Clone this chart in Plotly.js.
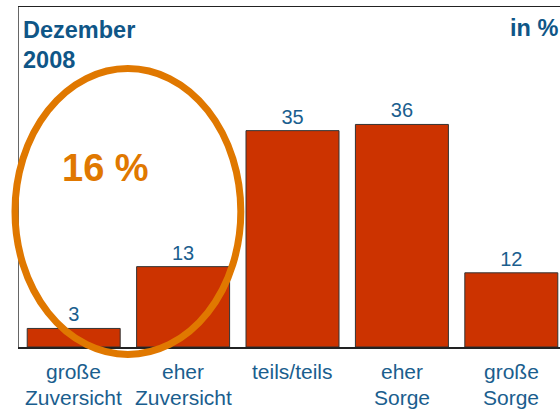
<!DOCTYPE html>
<html>
<head>
<meta charset="utf-8">
<script src="https://cdn.plot.ly/plotly-3.0.1.min.js"></script>
<style>
  html, body { margin: 0; padding: 0; overflow: hidden; background: #fff; }
  #chart { width: 560px; height: 411px; }
</style>
</head>
<body>
<div id="chart"></div>
<script>
const categories = ["große Zuversicht", "eher Zuversicht", "teils/teils", "eher Sorge", "große Sorge"];
const labelLine1 = ["große", "eher", "teils/teils", "eher", "große"];
const labelLine2 = ["Zuversicht", "Zuversicht", "", "Sorge", "Sorge"];
const values = [3, 13, 35, 36, 12];
const highlightText = "16 %";
const titleLines = ["Dezember", "2008"];
const unitText = "in %";

const blue = "#1a5e8e";
const titleBlue = "#0f5687";
const orange = "#e07800";

const font = "Liberation Sans, Arial, Helvetica, sans-serif";

const annotations = [];
categories.forEach((c, i) => {
  annotations.push({
    x: c, xref: "x", y: -0.0725, yref: "paper",
    text: labelLine1[i], showarrow: false, xanchor: "center", yanchor: "middle",
    font: {family: font, size: 21, color: blue}
  });
  if (labelLine2[i]) {
    annotations.push({
      x: c, xref: "x", y: -0.148, yref: "paper",
      text: labelLine2[i], showarrow: false, xanchor: "center", yanchor: "middle",
      font: {family: font, size: 21, color: blue}
    });
  }
});
annotations.push({
  x: 0.004, xref: "paper", y: 0.931, yref: "paper", text: "<b>" + titleLines[0] + "</b>",
  showarrow: false, xanchor: "left", yanchor: "middle",
  font: {family: font, size: 23.5, color: titleBlue}
});
annotations.push({
  x: 0.004, xref: "paper", y: 0.844, yref: "paper", text: "<b>" + titleLines[1] + "</b>",
  showarrow: false, xanchor: "left", yanchor: "middle",
  font: {family: font, size: 23.5, color: titleBlue}
});
annotations.push({
  x: 1.0, xref: "paper", y: 0.937, yref: "paper", text: "<b>" + unitText + "</b>",
  showarrow: false, xanchor: "right", yanchor: "middle",
  font: {family: font, size: 23.5, color: titleBlue}
});
annotations.push({
  x: 0.159, xref: "paper", y: 0.526, yref: "paper", text: "<b>" + highlightText + "</b>",
  showarrow: false, xanchor: "center", yanchor: "middle",
  font: {family: font, size: 38, color: orange}
});

const trace = {
  type: "bar",
  x: categories,
  y: values,
  text: values.map(String),
  textposition: "outside",
  cliponaxis: false,
  textfont: {family: font, size: 20, color: blue},
  marker: {color: "#cc3300", line: {color: "#333333", width: 1}},
  width: 0.85,
  hoverinfo: "skip"
};

const layout = {
  width: 560, height: 411,
  margin: {l: 19, r: 0, t: 7, b: 64, pad: 0},
  paper_bgcolor: "#ffffff",
  plot_bgcolor: "#ffffff",
  showlegend: false,
  xaxis: {
    type: "category",
    range: [-0.5, 4.445],
    showticklabels: false,
    ticks: "",
    showgrid: false,
    zeroline: false,
    showline: true, linecolor: "#222222", linewidth: 1.5, mirror: true,
    fixedrange: true
  },
  yaxis: {
    range: [0, 55],
    showticklabels: false,
    ticks: "",
    showgrid: false,
    zeroline: false,
    showline: true, linecolor: "#666666", linewidth: 1.5, mirror: true,
    fixedrange: true
  },
  shapes: [{
    type: "circle", xref: "paper", yref: "paper",
    x0: -0.0074, x1: 0.410, y0: -0.022, y1: 0.819,
    line: {color: orange, width: 7},
    fillcolor: "rgba(0,0,0,0)",
    layer: "above"
  }],
  annotations: annotations
};

Plotly.newPlot("chart", [trace], layout, {displayModeBar: false, staticPlot: true});
</script>
</body>
</html>
